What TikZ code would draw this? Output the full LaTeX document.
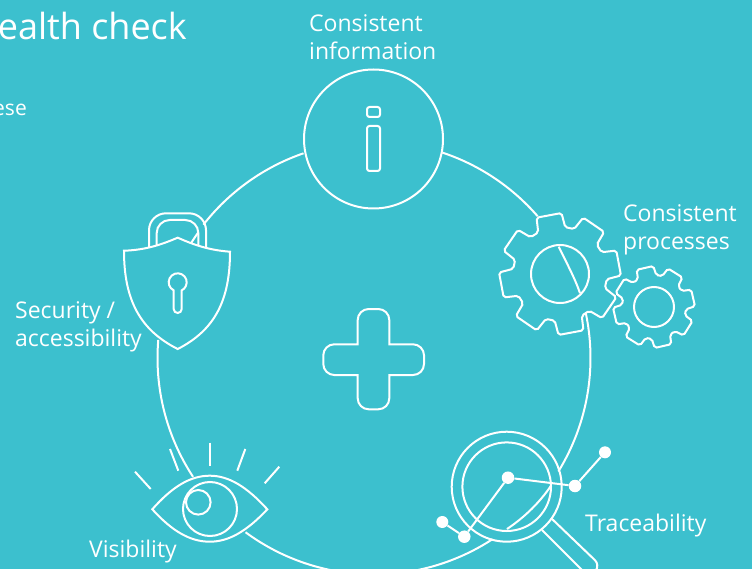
\documentclass[tikz,border=0pt]{standalone}
\usepackage{fontspec}
\setmainfont{Open Sans}
\definecolor{teal}{HTML}{3CC0CE}
\tikzstyle{line} = [draw=white, line width=2pt]
\tikzstyle{lbl} = [text=white, inner sep=0pt, anchor=base west, align=left, font=\fontsize{23}{28}\selectfont]
\tikzstyle{dot} = [circle, fill=white, inner sep=0pt, minimum size=12.5pt]
\newcommand{\gear}[5]{%
\draw[line, fill=teal, rounded corners=2pt, shift={(#1,#2)}] (#5+22.5:#4)
  \foreach \a in {45,90,...,360} {-- (#5+\a-17:#4) -- (#5+\a-12:#3) -- (#5+\a+12:#3) -- (#5+\a+17:#4)} -- cycle;}
\begin{document}
\begin{tikzpicture}[x=1pt,y=-1pt]
\clip (0,0) rectangle (752,569);
\fill[teal] (0,0) rectangle (752,569);
\coordinate (Hub) at (374,358);
% ring between the icons
\draw[line] (Hub) ++(-71.6:216.5) arc[start angle=-71.6, end angle=-40.9, radius=216.5];
\draw[line] (Hub) ++(-12.2:216.5) arc[start angle=-12.2, end angle=31.6, radius=216.5];
\draw[line] (Hub) ++(56.8:216.5) arc[start angle=56.8, end angle=126.4, radius=216.5];
\draw[line] (Hub) ++(146.7:216.5) arc[start angle=146.7, end angle=184.8, radius=216.5];
\draw[line] (Hub) ++(218:216.5) arc[start angle=218, end angle=251, radius=216.5];
\draw[line] (Hub) ++(211:216) arc[start angle=211, end angle=215.5, radius=216];
% title
\node (Title) [text=white, inner sep=0pt, anchor=base east, font=\fontsize{36}{40}\selectfont] at (187,40) {ealth check};
\node (Intro) [lbl, anchor=base east, font=\fontsize{21}{24}\selectfont] at (27,116) {ese};
% information
\node (InfoRing) [line, circle, minimum size=139pt] at (373.5,139) {};
\draw[line, rounded corners=2.5pt] (367,107) rectangle (380,117);
\draw[line, rounded corners=2.5pt] (367,126) rectangle (380,171);
\node (InfoText) [lbl] at (309,60) {Consistent\\information};
% gears
\gear{654}{307}{41}{32}{-103}
\gear{560}{274}{61}{47}{-100.6}
\node (BigHub) [line, circle, minimum size=58pt] at (560,274) {};
\node (SmallHub) [line, circle, minimum size=40pt] at (654,307) {};
\draw[line] (558.7,246.7) .. controls (565,260) and (575,278) .. (580,293.3);
\node (GearText) [lbl] at (623,250) {Consistent\\processes};
% lock
\draw[line, rounded corners=17pt] (149,252) -- (149,213.3) -- (206,213.3) -- (206,252);
\draw[line, rounded corners=13pt] (156.7,252) -- (156.7,220) -- (198.3,220) -- (198.3,252);
\draw[line, fill=teal] (177.7,237.7) .. controls (165,243) and (148,250) .. (124,250.7)
  .. controls (124,300) and (140,330) .. (177.7,349)
  .. controls (215,330) and (230,300) .. (230,251.7)
  .. controls (206,250) and (190,243) .. (177.7,237.7) -- cycle;
\draw[line] (177.7,282.3) ++(116.4:9) arc[start angle=116.4, end angle=423.6, radius=9]
  -- (181.7,309) arc[start angle=0, end angle=180, radius=4] -- cycle;
\node (LockText) [lbl] at (15,346) {Security /\\accessibility};
% plus
\draw[line] (357.7,344.3) -- (357.7,320) arc[start angle=180, end angle=270, radius=11]
  -- (378.3,309) arc[start angle=270, end angle=360, radius=11] -- (389.3,344.3)
  -- (413,344.3) arc[start angle=270, end angle=360, radius=11]
  -- (424,364) arc[start angle=0, end angle=90, radius=11] -- (389.3,375)
  -- (389.3,398.3) arc[start angle=0, end angle=90, radius=11]
  -- (368.7,409.3) arc[start angle=90, end angle=180, radius=11] -- (357.7,375)
  -- (334.3,375) arc[start angle=90, end angle=180, radius=11]
  -- (323.3,355.3) arc[start angle=180, end angle=270, radius=11] -- cycle;
% eye
\draw[line] (152.3,509.3) .. controls (172,487) and (190,475.7) .. (209.8,475.7)
  .. controls (229,475.7) and (247,487) .. (267.3,509.3)
  .. controls (247,531) and (229,541.7) .. (209.8,541.7)
  .. controls (190,541.7) and (172,531) .. (152.3,509.3) -- cycle;
\node (Iris) [line, circle, minimum size=54pt] at (210,509) {};
\node (Pupil) [line, circle, minimum size=24.6pt] at (198.3,502.3) {};
\draw[line] (135,471.7) -- (150.7,489);
\draw[line] (170,449) -- (178.3,470.7);
\draw[line] (210,442.7) -- (210,466);
\draw[line] (245.3,449) -- (237.3,470.7);
\draw[line] (279.3,466.7) -- (264.7,483.3);
\node (EyeText) [lbl] at (89,557) {Visibility};
% magnifier
\node (LensOut) [line, circle, minimum size=110pt] at (506.7,486.7) {};
\node (LensIn) [line, circle, minimum size=88.6pt] at (506.7,486.7) {};
\draw[line] (507,529) .. controls (525,517) and (540,502) .. (551,485.7);
\draw[line, rounded corners=7pt] (551,518) -- (600,565) -- (590,578) -- (542,530);
\node (DotA) [dot, minimum size=12pt] at (442.3,522) {};
\node (DotB) [dot] at (464.3,536.7) {};
\node (DotC) [dot] at (508,477.7) {};
\node (DotD) [dot] at (575,486) {};
\node (DotE) [dot, minimum size=12pt] at (605,452.3) {};
\draw[line] (DotA) -- (DotB);
\draw[line] (DotB) -- (DotC);
\draw[line] (DotC) -- (DotD);
\draw[line] (DotD) -- (DotE);
\node (LensText) [lbl] at (585,531) {Traceability};
\end{tikzpicture}
\end{document}
